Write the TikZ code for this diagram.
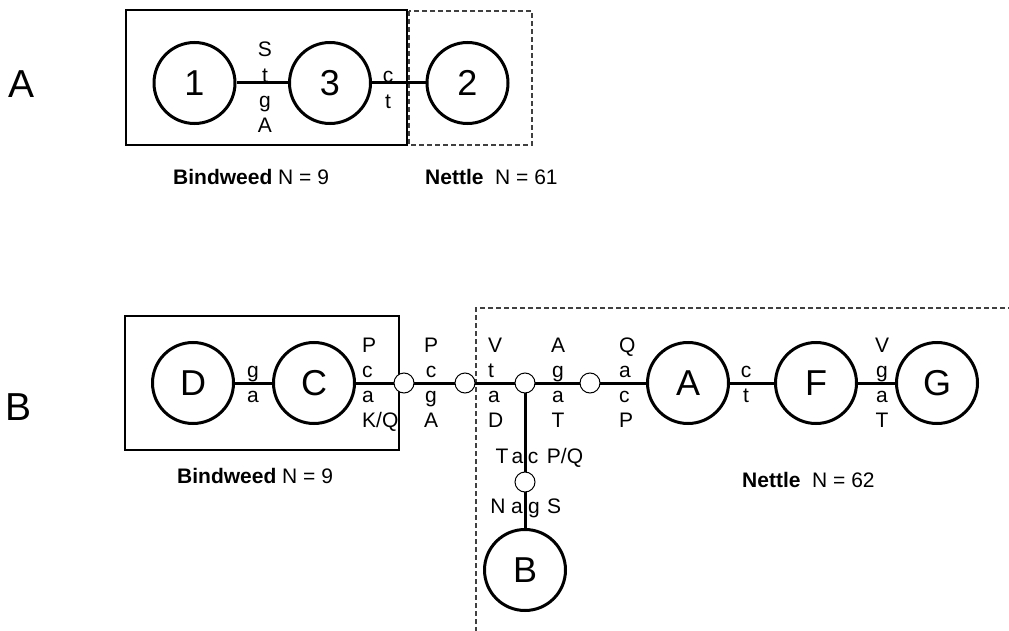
\documentclass[tikz,border=0pt]{standalone}
\usepackage{fontspec}
\setmainfont{Liberation Sans}
\newcommand{\colstack}[5]{% style, name, x, first baseline, list
  \foreach \t [count=\i] in {#5} {\node[#1] (#2\i) at (#3,{#4+25.3*(\i-1)}) {\t};}}
\begin{document}
\begin{tikzpicture}[x=1pt,y=-1pt,
  big/.style={circle,draw,line width=3pt,minimum size=81pt,inner sep=0pt,font=\fontsize{36}{36}\selectfont},
  small/.style={circle,draw,line width=1pt,minimum size=20pt,inner sep=0pt,fill=white},
  lbl/.style={font=\fontsize{21}{21}\selectfont,inner sep=0pt,anchor=base},
  lblw/.style={lbl,anchor=base west},
  edge/.style={line width=3pt},
  sbox/.style={line width=1.2pt},
  dbox/.style={line width=1.2pt,dash pattern=on 5pt off 3pt,draw=black!75},
  panel/.style={font=\fontsize{39}{39}\selectfont,inner sep=0pt},
  caption/.style={font=\fontsize{21}{21}\selectfont,inner sep=0pt,anchor=base west}]
\useasboundingbox (0,0) rectangle (1009,631);
% ---------- Panel A ----------
\node[panel] (pA) at (22,84) {A};
\draw[sbox] (126,10) rectangle (407,145);
\draw[dbox] (409,11) rectangle (532,145);
\node[big] (n1) at (194.5,83) {1};
\node[big] (n3) at (330,83) {3};
\node[big] (n2) at (467.5,83) {2};
\draw[edge] (n1) -- (n3);
\draw[edge] (n3) -- (n2);
\colstack{lbl}{a13}{265}{57}{S,t,g,A}
\colstack{lbl}{a32}{388}{83}{c,t}
\node[caption] (capA1) at (173,185) {\textbf{Bindweed} N = 9};
\node[caption] (capA2) at (425,185) {\textbf{Nettle}\ \ N = 61};
% ---------- Panel B ----------
\node[panel] (pB) at (19,407) {B};
\draw[sbox] (125,316) rectangle (399,450);
\draw[dbox] (476,640) -- (476,308) -- (1015,308);
\node[big] (D) at (193,383) {D};
\node[big] (C) at (314,383) {C};
\node[big] (A) at (688,383) {A};
\node[big] (F) at (816,383) {F};
\node[big] (G) at (937,383) {G};
\node[big] (B) at (525,570) {B};
\coordinate (c1) at (404,383);
\coordinate (c2) at (465,383);
\coordinate (c3) at (525,383);
\coordinate (c4) at (590,383);
\coordinate (c5) at (525,482);
\draw[edge] (D) -- (C);
\draw[edge] (C) -- (c1) -- (c2) -- (c3) -- (c4) -- (A);
\draw[edge] (A) -- (F);
\draw[edge] (F) -- (G);
\draw[edge] (c3) -- (c5) -- (B);
\node[small] (s1) at (c1) {};
\node[small] (s2) at (c2) {};
\node[small] (s3) at (c3) {};
\node[small] (s4) at (c4) {};
\node[small] (s5) at (c5) {};
\colstack{lbl}{bDC}{253}{377}{g,a}
\colstack{lblw}{bC1}{362}{352}{P,c,a,K/Q}
\colstack{lbl}{b12}{431}{352}{P,c,g,A}
\colstack{lblw}{b23}{488}{352}{V,t,a,D}
\colstack{lbl}{b34}{558}{352}{A,g,a,T}
\colstack{lblw}{b4A}{619}{352}{Q,a,c,P}
\colstack{lbl}{bAF}{746}{377}{c,t}
\colstack{lbl}{bFG}{882}{352}{V,g,a,T}
\node[lbl] (v1) at (502,463) {T};
\node[lbl] (v2) at (517.5,463) {a};
\node[lbl] (v3) at (533,463) {c};
\node[lbl] (v4) at (565,463) {P/Q};
\node[lbl] (w1) at (498,513) {N};
\node[lbl] (w2) at (517,513) {a};
\node[lbl] (w3) at (534,513) {g};
\node[lbl] (w4) at (554,513) {S};
\node[caption] (capB1) at (177,483) {\textbf{Bindweed} N = 9};
\node[caption] (capB2) at (742,487) {\textbf{Nettle}\ \ N = 62};
\end{tikzpicture}
\end{document}
